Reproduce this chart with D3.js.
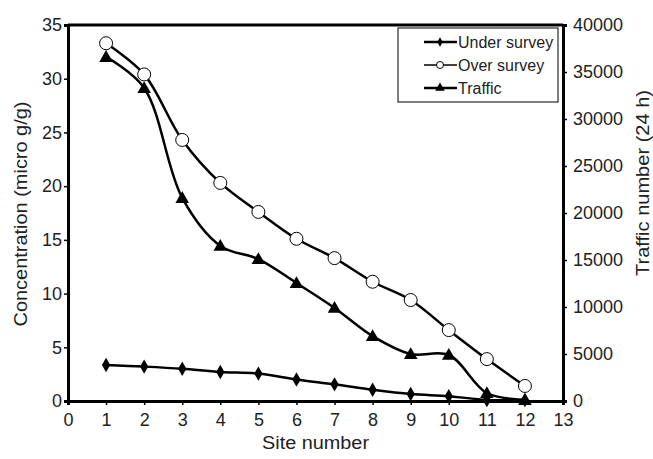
<!DOCTYPE html>
<html>
<head>
<meta charset="utf-8">
<script src="https://cdn.jsdelivr.net/npm/d3@7"></script>
<style>
  body { margin: 0; background: #fff; }
  svg { font-family: "Liberation Sans", Arial, sans-serif; }
</style>
</head>
<body>
<svg id="chart"></svg>
<script>
// data
const sites = [1, 2, 3, 4, 5, 6, 7, 8, 9, 10, 11, 12];
const underSurvey = [3.35, 3.2, 3.0, 2.7, 2.55, 2.0, 1.55, 1.05, 0.65, 0.45, 0.1, 0.1];
const overSurvey = [33.3, 30.4, 24.3, 20.3, 17.6, 15.1, 13.3, 11.1, 9.4, 6.6, 3.9, 1.4];
const traffic = [36600, 33300, 21600, 16500, 15100, 12550, 9900, 6900, 5000, 4900, 850, 100];
const xTicks = d3.range(0, 14);
const leftTicks = [0, 5, 10, 15, 20, 25, 30, 35];
const rightTicks = [0, 5000, 10000, 15000, 20000, 25000, 30000, 35000, 40000];

const width = 653;
const height = 459;
const plotLeft = 68, plotRight = 563, plotTop = 25, plotBottom = 401;

const svg = d3.select("#chart").attr("width", width).attr("height", height);

const xScale = d3.scaleLinear().domain([0, 13]).range([plotLeft, plotRight]);
const yLeft = d3.scaleLinear().domain([0, 35]).range([plotBottom, plotTop]);
const yRight = d3.scaleLinear().domain([0, 40000]).range([plotBottom, plotTop]);

// axis titles in the picture are a bit wider than the plain font
const title = (transform, label, len) => {
  svg.append("text")
    .attr("transform", transform)
    .attr("text-anchor", "middle")
    .attr("fill", "#222")
    .attr("textLength", len)
    .attr("lengthAdjust", "spacingAndGlyphs")
    .style("font-size", "18px")
    .text(label);
};

const drawAxes = () => {
  // top border
  svg.append("line")
    .attr("x1", plotLeft).attr("x2", plotRight)
    .attr("y1", plotTop).attr("y2", plotTop)
    .attr("stroke", "#000").attr("stroke-width", 3);

  const xAxis = d3.axisBottom(xScale).tickValues(xTicks).tickSize(4).tickPadding(8);
  const gx = svg.append("g")
    .attr("transform", "translate(0," + plotBottom + ")")
    .call(xAxis);

  const yAxisL = d3.axisLeft(yLeft).tickValues(leftTicks).tickSize(4).tickPadding(2);
  const gl = svg.append("g")
    .attr("transform", "translate(" + plotLeft + ",0)")
    .call(yAxisL);

  const yAxisR = d3.axisRight(yRight).tickValues(rightTicks).tickSize(4)
    .tickPadding(6).tickFormat(d3.format("d"));
  const gr = svg.append("g")
    .attr("transform", "translate(" + plotRight + ",0)")
    .call(yAxisR);

  [gx, gl, gr].forEach((g) => {
    g.select(".domain").attr("stroke", "#000").attr("stroke-width", 3);
    g.selectAll(".tick line").attr("stroke", "#000").attr("stroke-width", 1.5);
    g.selectAll(".tick text")
      .attr("fill", "#222")
      .style("font-size", "18px")
      .style("font-family", "Liberation Sans, Arial, sans-serif");
  });

  title("translate(" + (plotLeft + plotRight) / 2 + ",449)", "Site number", 107);
  title("translate(27,214) rotate(-90)", "Concentration (micro g/g)", 225);
  title("translate(649,183) rotate(-90)", "Traffic number (24 h)", 186);
};

const diamond = d3.symbol().type(d3.symbolDiamond);
const triangle = d3.symbol().type(d3.symbolTriangle);

const drawLines = () => {
  const line = (scale, vals) =>
    d3.line()
      .curve(d3.curveCatmullRom.alpha(0.5))
      .x((d, i) => xScale(sites[i]))
      .y((d) => scale(d))(vals);

  svg.append("path").attr("d", line(yLeft, underSurvey))
    .attr("fill", "none").attr("stroke", "#000").attr("stroke-width", 2.5);
  svg.append("path").attr("d", line(yLeft, overSurvey))
    .attr("fill", "none").attr("stroke", "#000").attr("stroke-width", 2.5);
  svg.append("path").attr("d", line(yRight, traffic))
    .attr("fill", "none").attr("stroke", "#000").attr("stroke-width", 2.5);

  svg.selectAll(".dia")
    .data(underSurvey)
    .enter()
    .append("path")
    .attr("class", "dia")
    .attr("d", diamond.size(60))
    .attr("transform", (d, i) => "translate(" + xScale(sites[i]) + "," + yLeft(d) + ")")
    .attr("fill", "#000");

  svg.selectAll(".tri")
    .data(traffic)
    .enter()
    .append("path")
    .attr("class", "tri")
    .attr("d", triangle.size(80))
    .attr("transform", (d, i) => "translate(" + xScale(sites[i]) + "," + (yRight(d) + 1) + ")")
    .attr("fill", "#000");

  svg.selectAll(".circ")
    .data(overSurvey)
    .enter()
    .append("circle")
    .attr("class", "circ")
    .attr("cx", (d, i) => xScale(sites[i]))
    .attr("cy", (d) => yLeft(d))
    .attr("r", 6.5)
    .attr("fill", "#fff")
    .attr("stroke", "#000")
    .attr("stroke-width", 1);
};

const addLegend = () => {
  const lg = svg.append("g");
  lg.append("rect")
    .attr("x", 398).attr("y", 28)
    .attr("width", 160).attr("height", 74)
    .attr("fill", "#fff").attr("stroke", "#000").attr("stroke-width", 1);

  const items = [
    { label: "Under survey", y: 42, w: 2.5 },
    { label: "Over survey", y: 65, w: 1.5 },
    { label: "Traffic", y: 88, w: 2.5 },
  ];
  items.forEach((it, i) => {
    lg.append("line")
      .attr("x1", 424).attr("x2", 457)
      .attr("y1", it.y).attr("y2", it.y)
      .attr("stroke", "#000").attr("stroke-width", it.w);
    if (i === 0) {
      lg.append("path").attr("d", diamond.size(25))
        .attr("transform", "translate(440," + it.y + ")").attr("fill", "#000");
    } else if (i === 1) {
      lg.append("circle").attr("cx", 440).attr("cy", it.y).attr("r", 3.5)
        .attr("fill", "#fff").attr("stroke", "#000").attr("stroke-width", 1);
    } else {
      lg.append("path").attr("d", triangle.size(40))
        .attr("transform", "translate(440," + it.y + ")").attr("fill", "#000");
    }
    lg.append("text")
      .attr("x", 458).attr("y", it.y + 6)
      .attr("fill", "#222")
      .style("font-size", "16px")
      .text(it.label);
  });
};

drawAxes();
drawLines();
addLegend();
</script>
</body>
</html>
